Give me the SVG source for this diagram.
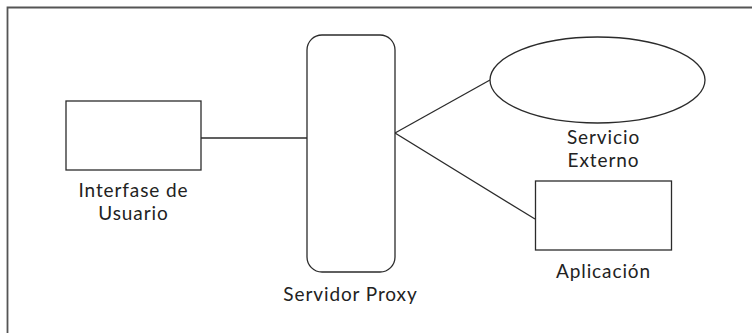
<svg xmlns="http://www.w3.org/2000/svg" width="752" height="333" viewBox="0 0 752 333">
<style>
.s{fill:#fff;stroke:#2b2b2b;stroke-width:1.3}
.c{fill:none;stroke:#2b2b2b;stroke-width:1.3}
.t{font-family:Lato,"Open Sans",sans-serif;font-size:19px;letter-spacing:0.9px;fill:#222;text-anchor:middle}
</style>
<rect width="752" height="333" fill="#fff"/>
<path d="M7.5,340 V7.5 H760" fill="none" stroke="#555" stroke-width="1.8"/>
<g id="connectors">
<line class="c" x1="201" y1="138" x2="307" y2="138"/>
<line class="c" x1="395" y1="133" x2="490" y2="80"/>
<line class="c" x1="395" y1="133" x2="535" y2="219"/>
</g>
<g id="interfase">
<rect class="s" x="66" y="101" width="135" height="69"/>
<text class="t" x="133.5" y="197">Interfase de</text>
<text class="t" x="133.5" y="220">Usuario</text>
</g>
<g id="proxy">
<rect class="s" x="307" y="35" width="88" height="237" rx="15" ry="15"/>
<text class="t" x="350.5" y="301">Servidor Proxy</text>
</g>
<g id="servicio">
<ellipse class="s" cx="597.5" cy="80" rx="107.5" ry="43"/>
<text class="t" x="603.5" y="144">Servicio</text>
<text class="t" x="603.5" y="167">Externo</text>
</g>
<g id="aplicacion">
<rect class="s" x="535.5" y="181" width="136" height="69"/>
<text class="t" x="603.5" y="278">Aplicación</text>
</g>
</svg>
